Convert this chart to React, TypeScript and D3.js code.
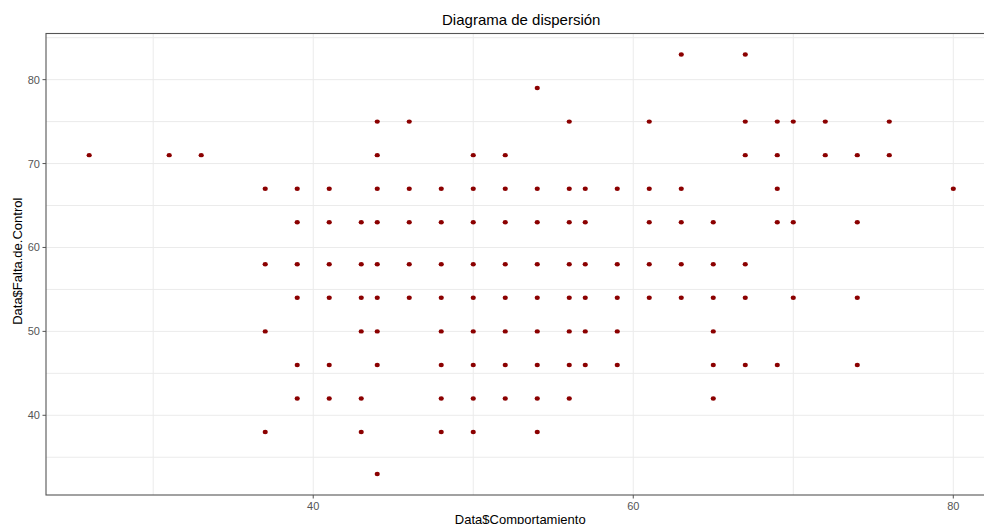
import * as d3 from "d3";

const WIDTH = 984;
const HEIGHT = 524;
const PANEL = { left: 46, top: 33.5, right: 996.5, bottom: 495 };

const TITLE = "Diagrama de dispersión";
const X_LABEL = "Data$Comportamiento";
const Y_LABEL = "Data$Falta.de.Control";

// one entry per observation (Comportamiento, Falta de Control)
const comportamiento = [
  26, 31, 33,
  37, 37, 37, 37,
  39, 39, 39, 39, 39, 39,
  41, 41, 41, 41, 41, 41,
  43, 43, 43, 43, 43, 43,
  44, 44, 44, 44, 44, 44, 44, 44, 44,
  46, 46, 46, 46, 46,
  48, 48, 48, 48, 48, 48, 48, 48,
  50, 50, 50, 50, 50, 50, 50, 50, 50,
  52, 52, 52, 52, 52, 52, 52, 52,
  54, 54, 54, 54, 54, 54, 54, 54, 54,
  56, 56, 56, 56, 56, 56, 56, 56,
  57, 57, 57, 57, 57, 57,
  59, 59, 59, 59, 59,
  61, 61, 61, 61, 61,
  63, 63, 63, 63, 63,
  65, 65, 65, 65, 65, 65,
  67, 67, 67, 67, 67, 67,
  69, 69, 69, 69, 69,
  70, 70, 70,
  72, 72,
  74, 74, 74, 74,
  76, 76,
  80,
];

const faltaDeControl = [
  71, 71, 71,
  67, 58, 50, 38,
  67, 63, 58, 54, 46, 42,
  67, 63, 58, 54, 46, 42,
  63, 58, 54, 50, 42, 38,
  75, 71, 67, 63, 58, 54, 50, 46, 33,
  75, 67, 63, 58, 54,
  67, 63, 58, 54, 50, 46, 42, 38,
  71, 67, 63, 58, 54, 50, 46, 42, 38,
  71, 67, 63, 58, 54, 50, 46, 42,
  79, 67, 63, 58, 54, 50, 46, 42, 38,
  75, 67, 63, 58, 54, 50, 46, 42,
  67, 63, 58, 54, 50, 46,
  67, 58, 54, 50, 46,
  75, 67, 63, 58, 54,
  83, 67, 63, 58, 54,
  63, 58, 54, 50, 46, 42,
  83, 75, 71, 58, 54, 46,
  75, 71, 67, 63, 46,
  75, 63, 54,
  75, 71,
  71, 63, 54, 46,
  75, 71,
  67,
];

const X_TICKS = [40, 60, 80];
const X_MINOR = [30, 50, 70];
const Y_TICKS = [40, 50, 60, 70, 80];
const Y_MINOR = [35, 45, 55, 65, 75, 85];

const FONT = "'Liberation Sans', Arial, sans-serif";

export default function App() {
  const xExtent = d3.extent(comportamiento) as [number, number];
  const yExtent = d3.extent(faltaDeControl) as [number, number];
  const xPad = (xExtent[1] - xExtent[0]) * 0.05;
  const yPad = (yExtent[1] - yExtent[0]) * 0.05;

  const x = d3
    .scaleLinear()
    .domain([xExtent[0] - xPad, xExtent[1] + xPad])
    .range([PANEL.left, PANEL.right]);
  const y = d3
    .scaleLinear()
    .domain([yExtent[0] - yPad, yExtent[1] + yPad])
    .range([PANEL.bottom, PANEL.top]);

  const points = comportamiento.map((v, i) => ({ cx: x(v), cy: y(faltaDeControl[i]) }));
  const midX = (PANEL.left + PANEL.right) / 2;
  const midY = (PANEL.top + PANEL.bottom) / 2;

  return (
    <svg
      width={WIDTH}
      height={HEIGHT}
      style={{ position: "absolute", left: 0, top: 0, background: "#fff" }}
      fontFamily={FONT}
    >
      <rect x={0} y={0} width={WIDTH} height={HEIGHT} fill="#fff" />

      {[...X_MINOR, ...X_TICKS].map((t) => (
        <line key={`gx-${t}`} x1={x(t)} x2={x(t)} y1={PANEL.top} y2={PANEL.bottom} stroke="#EBEBEB" strokeWidth={1} />
      ))}
      {[...Y_MINOR, ...Y_TICKS].map((t) => (
        <line key={`gy-${t}`} x1={PANEL.left} x2={PANEL.right} y1={y(t)} y2={y(t)} stroke="#EBEBEB" strokeWidth={1} />
      ))}

      {points.map((p, i) => (
        <ellipse key={i} cx={p.cx} cy={p.cy} rx={2.6} ry={2.2} fill="#8B0000" />
      ))}

      <rect
        x={PANEL.left}
        y={PANEL.top}
        width={PANEL.right - PANEL.left}
        height={PANEL.bottom - PANEL.top}
        fill="none"
        stroke="#555"
        strokeWidth={1.1}
      />

      {X_TICKS.map((t) => (
        <g key={`xt-${t}`}>
          <line x1={x(t)} x2={x(t)} y1={PANEL.bottom} y2={PANEL.bottom + 3.5} stroke="#555" />
          <text x={x(t)} y={PANEL.bottom + 14.5} textAnchor="middle" fontSize={11} fill="#555">
            {t}
          </text>
        </g>
      ))}
      {Y_TICKS.map((t) => (
        <g key={`yt-${t}`}>
          <line x1={PANEL.left - 3.5} x2={PANEL.left} y1={y(t)} y2={y(t)} stroke="#555" />
          <text x={PANEL.left - 6} y={y(t) + 4} textAnchor="end" fontSize={11} fill="#555">
            {t}
          </text>
        </g>
      ))}

      <text x={midX} y={25} textAnchor="middle" fontSize={15} fill="#000">
        {TITLE}
      </text>
      <text x={midX - 1} y={524} textAnchor="middle" fontSize={13} fill="#000">
        {X_LABEL}
      </text>
      <text
        transform={`translate(22 ${midY - 3}) rotate(-90)`}
        textAnchor="middle"
        fontSize={13}
        fill="#000"
      >
        {Y_LABEL}
      </text>
    </svg>
  );
}
